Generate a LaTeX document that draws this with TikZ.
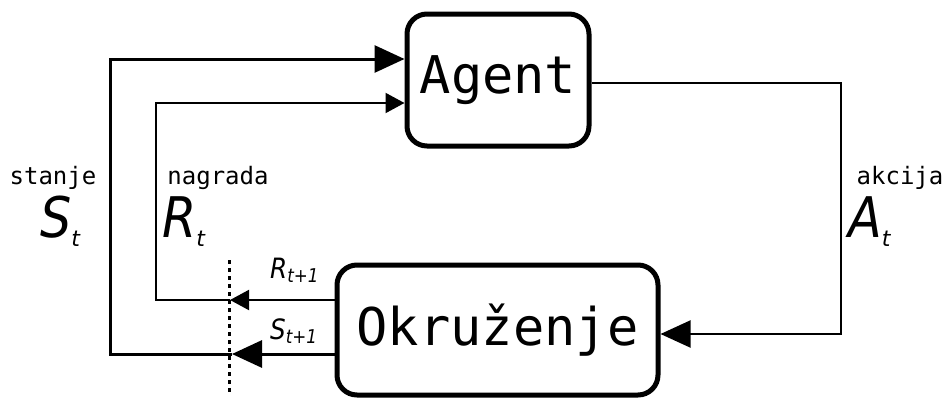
\documentclass[tikz,border=0pt]{standalone}
\usepackage{fontspec}
\setmainfont{DejaVu Sans}
\setmonofont{DejaVu Sans Mono}
\usetikzlibrary{arrows.meta}

\newcommand{\bigvar}[2]{\scalebox{0.88}[1]{\fontsize{56}{56}\selectfont\itshape #1}{\fontsize{22}{22}\selectfont\itshape\raisebox{-9pt}{#2}}}
\newcommand{\smallvar}[2]{\scalebox{0.88}[1]{\fontsize{28}{28}\selectfont\itshape #1}{\fontsize{19}{19}\selectfont\itshape\raisebox{-4pt}{\scalebox{0.88}[1]{#2}}}}

\begin{document}
\begin{tikzpicture}[x=1pt,y=-1pt,
		blok/.style={draw,line width=5pt,rounded corners=20pt,font=\fontsize{52}{60}\selectfont\ttfamily},
		rijec/.style={font=\fontsize{24}{28}\selectfont\ttfamily,anchor=base,inner sep=0pt},
		oznaka/.style={anchor=base west,inner sep=0pt},
		debela/.style={line width=3pt,-{Triangle[length=30pt,width=27pt]}},
		tanka/.style={line width=2pt,-{Triangle[length=19pt,width=20pt]}}]
		\useasboundingbox (0,0) rectangle (948,399);
		\node[blok,minimum width=182pt,minimum height=132pt] (agent) at (498,80) {Agent};
		\node[blok,minimum width=321pt,minimum height=130pt] (okr) at (497.5,330) {Okruženje};
		% isprekidana crta
		\coordinate (d1) at (229,260);
		\coordinate (d2) at (229,392);
		\draw[line width=3pt,dash pattern=on 4pt off 4pt] (d1) -- (d2);
		% stanje
		\coordinate (s1) at (232,354);
		\coordinate (s2) at (110,354);
		\coordinate (s3) at (110,59);
		\draw[debela] (okr.west |- s1) -- (s1);
		\draw[debela] (s1) -- (s2) -- (s3) -- (agent.west |- s3);
		% nagrada
		\coordinate (r1) at (230,300);
		\coordinate (r2) at (156,300);
		\coordinate (r3) at (156,103);
		\draw[tanka] (okr.west |- r1) -- (r1);
		\draw[tanka] (r1) -- (r2) -- (r3) -- (agent.west |- r3);
		% akcija
		\coordinate (a1) at (841,83);
		\coordinate (a2) at (841,334);
		\draw[line width=2pt,-{Triangle[length=30pt,width=27pt]}] (agent.east |- a1) -- (a1) -- (a2) -- (okr.east |- a2);
		% oznake
		\node[rijec] (stanje) at (53,184) {stanje};
		\node[oznaka] (St) at (40,237) {\bigvar{S}{t}};
		\node[rijec] (nagrada) at (218,184) {nagrada};
		\node[oznaka] (Rt) at (162,237) {\bigvar{R}{t}};
		\node[rijec] (akcija) at (900,184) {akcija};
		\node[oznaka] (At) at (848,237) {\bigvar{A}{t}};
		\node[oznaka] (Rt1) at (270,278) {\smallvar{R}{t+1}};
		\node[oznaka] (St1) at (270,339) {\smallvar{S}{t+1}};
	\end{tikzpicture}
\end{document}
